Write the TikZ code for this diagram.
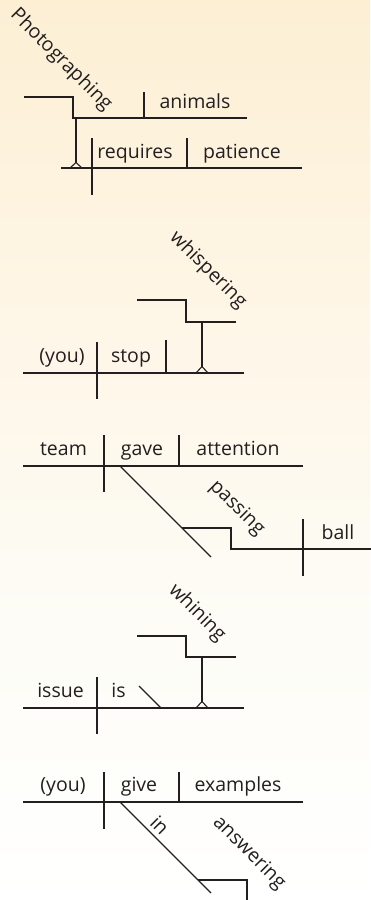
\documentclass[tikz,border=0pt]{standalone}
\usepackage{fontspec}
\setmainfont{Open Sans}
\definecolor{ink}{HTML}{231F20}
\definecolor{bgA}{HTML}{FCEFD4}
\definecolor{bgB}{HTML}{FEF6E7}
\definecolor{bgC}{HTML}{FDFCF6}
\definecolor{bgD}{HTML}{FFFFFF}
\tikzset{
  ln/.style={draw=ink, line width=1.1pt, line cap=butt, line join=miter},
  word/.style={text=ink, inner sep=0pt, anchor=base, font=\fontsize{19.5}{23}\selectfont},
  slantword/.style={text=ink, inner sep=0pt, anchor=center, rotate=-45, font=\fontsize{19.5}{23}\selectfont}
}
\begin{document}
\begin{tikzpicture}[x=1pt,y=-1pt]
\useasboundingbox (0,0) rectangle (370,900);
\shade[top color=bgA, bottom color=bgB] (0,0) rectangle (370,331);
\shade[top color=bgB, bottom color=bgC] (0,330) rectangle (370,621);
\shade[top color=bgC, bottom color=bgD] (0,620) rectangle (370,900);

% ---------- Diagram 1 ----------
\node[slantword] (photographing) at (61,60) {Photographing};
\node[word] (animals) at (195,108) {animals};
\node[word] (requires) at (135,158) {requires};
\node[word] (patience) at (242,158) {patience};
\draw[ln] (24,97) -- (73,97) -- (73,118) -- (247,118);
\draw[ln] (144,92) -- (144,118);
\draw[ln] (76,118) -- (76,162.5);
\draw[ln] (70,168) -- (76,162.5) -- (82,168);
\draw[ln] (61,168) -- (302,168);
\draw[ln] (92,138) -- (92,195);
\draw[ln] (187,138) -- (187,168);

% ---------- Diagram 2 ----------
\node[slantword] (whispering) at (208,270) {whispering};
\node[word] (you1) at (62,362) {(you)};
\node[word] (stop) at (131,362) {stop};
\draw[ln] (137,300) -- (186,300) -- (186,322) -- (236,322);
\draw[ln] (202,322) -- (202,366.5);
\draw[ln] (196,373) -- (202,366.5) -- (208,373);
\draw[ln] (23,373) -- (244,373);
\draw[ln] (97,342) -- (97,399);
\draw[ln] (166,340) -- (166,373);

% ---------- Diagram 3 ----------
\node[word] (team) at (63.5,455) {team};
\node[word] (gave) at (142,455) {gave};
\node[word] (attention) at (238,455) {attention};
\node[slantword] (passing) at (237,508) {passing};
\node[word] (ball) at (338,539) {ball};
\draw[ln] (23,466) -- (303,466);
\draw[ln] (104,435) -- (104,492);
\draw[ln] (179,435) -- (179,466);
\draw[ln] (120,466) -- (211,557);
\draw[ln] (182,528) -- (231,528) -- (231,549) -- (371,549);
\draw[ln] (303,519) -- (303,576);

% ---------- Diagram 4 ----------
\node[slantword] (whining) at (197,613) {whining};
\node[word] (issue) at (60.5,697) {issue};
\node[word] (is) at (118.5,697) {is};
\draw[ln] (137,636) -- (186,636) -- (186,657) -- (236,657);
\draw[ln] (202,657) -- (202,701.5);
\draw[ln] (196,708) -- (202,701.5) -- (208,708);
\draw[ln] (23,708) -- (244,708);
\draw[ln] (97,677) -- (97,734);
\draw[ln] (139,686) -- (161,708);

% ---------- Diagram 5 ----------
\node[word] (you2) at (63,791) {(you)};
\node[word] (give) at (139,791) {give};
\node[word] (examples) at (238,791) {examples};
\node[slantword] (in) at (160,825) {in};
\node[slantword] (answering) at (249,853) {answering};
\draw[ln] (23,802) -- (303,802);
\draw[ln] (104,772) -- (104,829);
\draw[ln] (179,772) -- (179,802);
\draw[ln] (120,802) -- (211,893);
\draw[ln] (198,880) -- (247,880) -- (247,901);
\end{tikzpicture}
\end{document}
